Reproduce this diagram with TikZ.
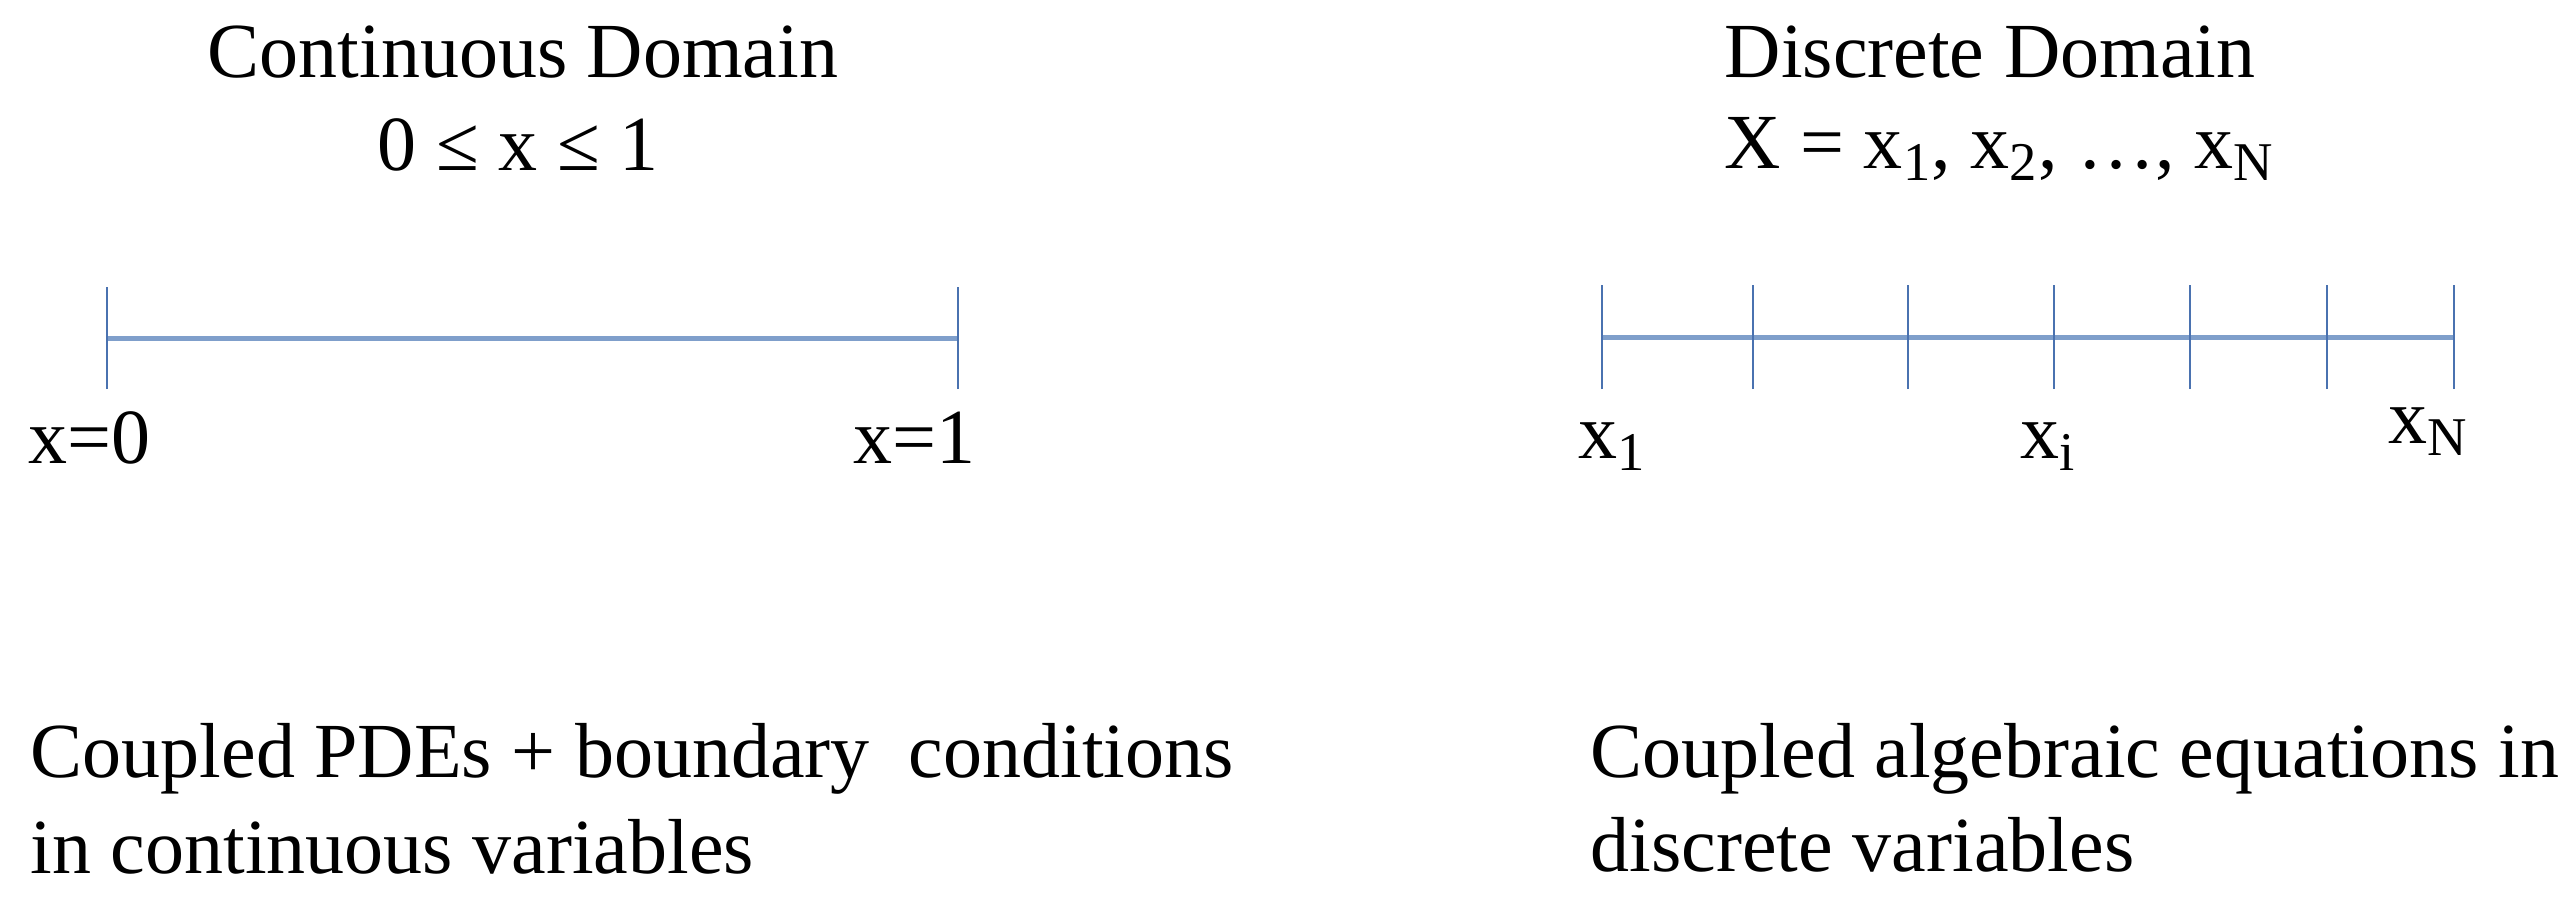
\documentclass[tikz,border=0pt]{standalone}
\usepackage{fontspec}
\setmainfont{Liberation Serif}
\definecolor{linec}{HTML}{7F9FCB}
\definecolor{tickc}{HTML}{4A72B0}
\begin{document}
\begin{tikzpicture}[x=0.3pt,y=-0.3pt,
  txt/.style={inner sep=0pt,font=\fontsize{23.4}{28}\selectfont},
  axisline/.style={line width=1.5pt,draw=linec},
  tickline/.style={line width=0.75pt,draw=tickc}]
\useasboundingbox (0,0) rectangle (2567,914);
% titles
\node[txt,anchor=base] (ctitle) at (523,77) {Continuous Domain};
\node[txt,anchor=base] (crange) at (518,170) {0 ≤ x ≤ 1};
\node[txt,anchor=base west] (dtitle) at (1724,77) {Discrete Domain};
\node[txt,anchor=base west] (dset) at (1724,168) {X = x\textsubscript{1}, x\textsubscript{2}, …, x\textsubscript{N}};
% continuous axis
\coordinate (c0) at (107,338);
\coordinate (c1) at (958,338);
\draw[axisline] (c0) -- (c1);
\foreach \n in {c0,c1} {
  \draw[tickline] ([yshift=-51*0.3pt]\n) -- ([yshift=51*0.3pt]\n);
}
\node[txt,anchor=base west] (lx0) at (28,463) {x=0};
\node[txt,anchor=base west] (lx1) at (853,463) {x=1};
% discrete axis
\coordinate (d1) at (1602,337);
\coordinate (d2) at (1753,337);
\coordinate (d3) at (1908,337);
\coordinate (d4) at (2054,337);
\coordinate (d5) at (2190,337);
\coordinate (d6) at (2327,337);
\coordinate (d7) at (2454,337);
\draw[axisline] (d1) -- (d7);
\foreach \n in {d1,d2,d3,d4,d5,d6,d7} {
  \draw[tickline] ([yshift=-52*0.3pt]\n) -- ([yshift=52*0.3pt]\n);
}
\node[txt,anchor=base west] (lx1d) at (1578,458) {x\textsubscript{1}};
\node[txt,anchor=base west] (lxi) at (2020,458) {x\textsubscript{i}};
\node[txt,anchor=base west] (lxN) at (2388,443) {x\textsubscript{N}};
% bottom texts
\node[txt,anchor=base west] (cb1) at (30,777) {Coupled PDEs + boundary\ \ conditions};
\node[txt,anchor=base west] (cb2) at (30,873) {in continuous variables};
\node[txt,anchor=base west] (db1) at (1590,777) {Coupled algebraic equations in};
\node[txt,anchor=base west] (db2) at (1590,871) {discrete variables};
\end{tikzpicture}
\end{document}
